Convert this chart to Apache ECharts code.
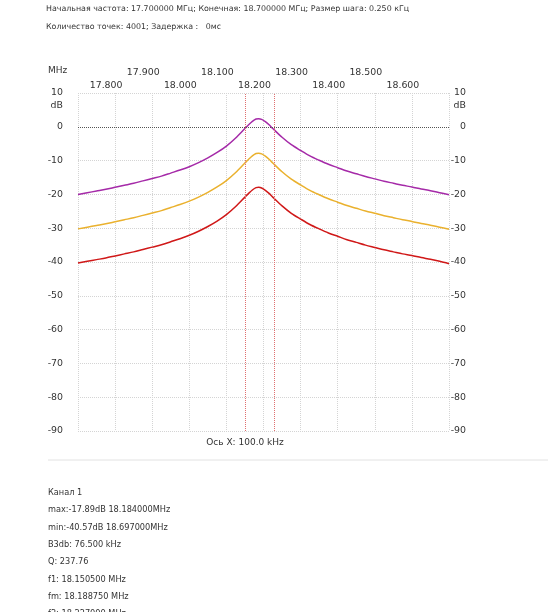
<!DOCTYPE html>
<html lang="ru">
<head>
    <meta charset="utf-8">
    <title>АЧХ</title>
    <script src="https://cdn.jsdelivr.net/npm/echarts@6/dist/echarts.min.js"></script>
    <style>
        html, body { margin: 0; padding: 0; background: #fff; }
        #main { width: 548px; height: 612px; }
    </style>
</head>
<body>
    <div id="main"></div>
    <script type="text/javascript">

    // частоты, МГц
    var freq = [17.700, 17.725, 17.750, 17.775, 17.800, 17.825, 17.850, 17.875, 17.900, 17.925,
                17.950, 17.975, 18.000, 18.025, 18.050, 18.075, 18.100, 18.125, 18.150, 18.160,
                18.170, 18.180, 18.187, 18.195, 18.205, 18.215, 18.225, 18.250, 18.275, 18.300,
                18.325, 18.350, 18.375, 18.400, 18.425, 18.450, 18.475, 18.500, 18.525, 18.550,
                18.575, 18.600, 18.625, 18.650, 18.675, 18.700];

    // уровни, дБ
    var purple = [-20.0, -19.5, -19.0, -18.5, -17.9, -17.3, -16.7, -16.0, -15.3, -14.6,
                  -13.7, -12.8, -11.8, -10.6, -9.2, -7.6, -5.7, -3.3, -0.5, 0.6,
                  1.6, 2.3, 2.4, 2.2, 1.5, 0.6, -0.5, -3.1, -5.3, -7.0,
                  -8.6, -9.9, -11.1, -12.1, -13.1, -13.9, -14.7, -15.4, -16.1, -16.7,
                  -17.3, -17.8, -18.4, -18.9, -19.5, -20.1];
    var orange = [-30.2, -29.7, -29.2, -28.7, -28.1, -27.5, -26.9, -26.2, -25.5, -24.8,
                  -23.9, -23.0, -22.0, -20.8, -19.4, -17.8, -15.9, -13.5, -10.7, -9.6,
                  -8.6, -7.9, -7.8, -8.0, -8.7, -9.6, -10.7, -13.3, -15.5, -17.2,
                  -18.8, -20.1, -21.3, -22.3, -23.3, -24.1, -24.9, -25.6, -26.3, -26.9,
                  -27.5, -28.0, -28.6, -29.1, -29.7, -30.3];
    var red = [-40.3, -39.8, -39.3, -38.8, -38.2, -37.6, -37.0, -36.3, -35.6, -34.9,
               -34.0, -33.1, -32.1, -30.9, -29.5, -27.9, -26.0, -23.6, -20.8, -19.7,
               -18.7, -18.0, -17.9, -18.1, -18.8, -19.7, -20.8, -23.4, -25.6, -27.3,
               -28.9, -30.2, -31.4, -32.4, -33.4, -34.2, -35.0, -35.7, -36.4, -37.0,
               -37.6, -38.1, -38.7, -39.2, -39.8, -40.5];

    // подписи оси X (два ряда) и маркеры f1 / f2
    var xLabelsLow = ['17.800', '18.000', '18.200', '18.400', '18.600'];
    var xLabelsHigh = ['17.900', '18.100', '18.300', '18.500'];
    var markers = [18.1505, 18.227];

    var infoLines = ['Канал 1', 'max:-17.89dB 18.184000MHz', 'min:-40.57dB 18.697000MHz',
                     'B3db: 76.500 kHz', 'Q: 237.76', 'f1: 18.150500 MHz',
                     'fm: 18.188750 MHz', 'f2: 18.227000 MHz'];

    var FONT = '"DejaVu Sans", Verdana, sans-serif';

    function pairs(ys) {
        return freq.map(function (f, i) { return [f, ys[i]]; });
    }

    function txt(text, x, y, size, align, color) {
        return {
            type: 'text', silent: true,
            style: {
                text: text, x: x, y: y,
                font: size + 'px ' + FONT,
                fill: color || '#333',
                textAlign: align || 'left',
                textVerticalAlign: 'middle'
            }
        };
    }

    var graphics = [
        txt('Начальная частота: 17.700000 MГц; Конечная: 18.700000 MГц; Размер шага: 0.250 кГц', 46, 9, 7.9),
        txt('Количество точек: 4001; Задержка :   0мс', 46, 27, 7.9),
        txt('MHz', 48, 71, 9, 'left', '#333'),
        txt('dB', 63, 106, 9.4, 'right', '#333'),
        txt('dB', 466, 106, 9.4, 'right', '#333'),
        txt('Ось X: 100.0 kHz', 245, 443, 9, 'center', '#333'),
        {
            type: 'line', silent: true,
            shape: { x1: 48, y1: 460, x2: 548, y2: 460 },
            style: { stroke: '#e2e2e2', lineWidth: 1 }
        }
    ];
    infoLines.forEach(function (s, i) {
        graphics.push(txt(s, 48, 493 + i * 17.3, 8.2));
    });

    function xLabel(list) {
        return function (v) {
            var s = v.toFixed(3);
            return list.indexOf(s) >= 0 ? s : '';
        };
    }

    var myChart = echarts.init(document.getElementById('main'));

    myChart.setOption({
        animation: false,
        textStyle: { fontFamily: FONT },
        grid: { left: 78, right: 99, top: 93, bottom: 181 },
        xAxis: [{
            type: 'value', position: 'top',
            min: 17.7, max: 18.7, interval: 0.1,
            axisLine: { show: false }, axisTick: { show: false },
            axisLabel: {
                margin: 3, fontSize: 9.4, color: '#333',
                padding: [0, 18, 0, 0],
                formatter: xLabel(xLabelsLow)
            },
            splitLine: { lineStyle: { color: '#d4d4d4', type: 'dotted', width: 1 } }
        }, {
            type: 'value', position: 'top', offset: 13,
            min: 17.7, max: 18.7, interval: 0.1,
            axisLine: { show: false }, axisTick: { show: false },
            axisLabel: {
                margin: 3, fontSize: 9.4, color: '#333',
                padding: [0, 18, 0, 0],
                formatter: xLabel(xLabelsHigh)
            },
            splitLine: { show: false }
        }],
        yAxis: [{
            type: 'value', position: 'left',
            min: -90, max: 10, interval: 10,
            axisLine: { show: false }, axisTick: { show: false },
            axisLabel: { margin: 15, fontSize: 9.4, color: '#333' },
            splitLine: { lineStyle: { color: '#d4d4d4', type: 'dotted', width: 1 } }
        }, {
            type: 'value', position: 'right',
            min: -90, max: 10, interval: 10,
            axisLine: { show: false }, axisTick: { show: false },
            axisLabel: { margin: 17, align: 'right', fontSize: 9.4, color: '#333' },
            splitLine: { show: false }
        }],
        graphic: graphics,
        series: [{
            name: 'purple', type: 'line', data: pairs(purple),
            showSymbol: false, smooth: 0.3,
            lineStyle: { color: '#a52aa8', width: 1.5 }
        }, {
            name: 'orange', type: 'line', data: pairs(orange),
            showSymbol: false, smooth: 0.3,
            lineStyle: { color: '#eab12e', width: 1.5 }
        }, {
            name: 'red', type: 'line', data: pairs(red),
            showSymbol: false, smooth: 0.3,
            lineStyle: { color: '#d01818', width: 1.5 },
            markLine: {
                silent: true, symbol: 'none', label: { show: false },
                data: [
                    { yAxis: 0, lineStyle: { color: '#555', type: 'dotted', width: 1 } },
                    { xAxis: markers[0], lineStyle: { color: '#e07070', type: 'dotted', width: 1 } },
                    { xAxis: markers[1], lineStyle: { color: '#e07070', type: 'dotted', width: 1 } }
                ]
            }
        }]
    });

    </script>
</body>
</html>
